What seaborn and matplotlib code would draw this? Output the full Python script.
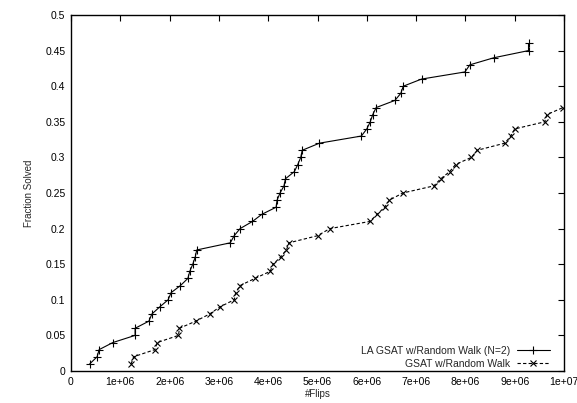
import matplotlib
matplotlib.use("Agg")
import matplotlib.pyplot as plt
import seaborn as sns
import pandas as pd

# LA GSAT w/Random Walk (N=2)
la_flips = [0.38e6, 0.53e6, 0.57e6, 0.85e6, 1.30e6, 1.30e6, 1.58e6, 1.64e6, 1.80e6, 1.97e6,
            2.03e6, 2.22e6, 2.37e6, 2.41e6, 2.47e6, 2.52e6, 2.55e6, 3.23e6, 3.31e6, 3.43e6,
            3.68e6, 3.87e6, 4.16e6, 4.18e6, 4.24e6, 4.32e6, 4.35e6, 4.53e6, 4.60e6, 4.66e6,
            4.69e6, 5.04e6, 5.89e6, 6.00e6, 6.07e6, 6.12e6, 6.19e6, 6.57e6, 6.69e6, 6.74e6,
            7.11e6, 7.99e6, 8.09e6, 8.58e6, 9.28e6, 9.28e6]
la_frac = [0.01, 0.02, 0.03, 0.04, 0.05, 0.06, 0.07, 0.08, 0.09, 0.10,
           0.11, 0.12, 0.13, 0.14, 0.15, 0.16, 0.17, 0.18, 0.19, 0.20,
           0.21, 0.22, 0.23, 0.24, 0.25, 0.26, 0.27, 0.28, 0.29, 0.30,
           0.31, 0.32, 0.33, 0.34, 0.35, 0.36, 0.37, 0.38, 0.39, 0.40,
           0.41, 0.42, 0.43, 0.44, 0.45, 0.46]

# GSAT w/Random Walk
gs_flips = [1.22e6, 1.27e6, 1.70e6, 1.75e6, 2.18e6, 2.20e6, 2.53e6, 2.81e6, 3.02e6, 3.31e6,
            3.34e6, 3.43e6, 3.73e6, 4.04e6, 4.10e6, 4.25e6, 4.37e6, 4.42e6, 5.00e6, 5.25e6,
            6.06e6, 6.21e6, 6.36e6, 6.46e6, 6.73e6, 7.36e6, 7.50e6, 7.68e6, 7.80e6, 8.12e6,
            8.24e6, 8.80e6, 8.92e6, 9.00e6, 9.61e6, 9.65e6, 9.98e6]
gs_frac = [0.01, 0.02, 0.03, 0.04, 0.05, 0.06, 0.07, 0.08, 0.09, 0.10,
           0.11, 0.12, 0.13, 0.14, 0.15, 0.16, 0.17, 0.18, 0.19, 0.20,
           0.21, 0.22, 0.23, 0.24, 0.25, 0.26, 0.27, 0.28, 0.29, 0.30,
           0.31, 0.32, 0.33, 0.34, 0.35, 0.36, 0.37]

series_names = ["LA GSAT w/Random Walk (N=2)", "GSAT w/Random Walk"]
x_ticks = [0, 1e6, 2e6, 3e6, 4e6, 5e6, 6e6, 7e6, 8e6, 9e6, 1e7]
x_tick_labels = ["0", "1e+06", "2e+06", "3e+06", "4e+06", "5e+06", "6e+06", "7e+06", "8e+06", "9e+06", "1e+07"]
y_ticks = [0, 0.05, 0.1, 0.15, 0.2, 0.25, 0.3, 0.35, 0.4, 0.45, 0.5]
y_tick_labels = ["0", "0.05", "0.1", "0.15", "0.2", "0.25", "0.3", "0.35", "0.4", "0.45", "0.5"]

sns.set_theme(style="white")
plt.rcParams['font.family'] = ['Liberation Sans', 'DejaVu Sans']

fig = plt.figure(figsize=(5.77, 4.03), dpi=100)
ax = fig.add_axes([71/577, 1 - 371/403, (564 - 71)/577, (371 - 15)/403])

df_la = pd.DataFrame({"flips": la_flips, "frac": la_frac})
df_gs = pd.DataFrame({"flips": gs_flips, "frac": gs_frac})

sns.lineplot(data=df_la, x="flips", y="frac", ax=ax, estimator=None, sort=False,
             color="black", linewidth=0.8, marker="+", markersize=5.5, markeredgewidth=0.8,
             markeredgecolor="black", markerfacecolor="black",
             label=series_names[0])
sns.lineplot(data=df_gs, x="flips", y="frac", ax=ax, estimator=None, sort=False,
             color="black", linewidth=0.8, linestyle=(0, (3, 2)), marker="x", markersize=4.5,
             markeredgewidth=0.8, markeredgecolor="black", markerfacecolor="black",
             label=series_names[1])

ax.set_xlim(0, 1e7)
ax.set_ylim(0, 0.5)
ax.set_xticks(x_ticks)
ax.set_xticklabels(x_tick_labels)
ax.set_yticks(y_ticks)
ax.set_yticklabels(y_tick_labels)
ax.tick_params(direction="in", length=4, width=0.8, top=True, right=True,
               labelsize=7.5, colors="black", pad=4)
for s in ax.spines.values():
    s.set_color("black")
    s.set_linewidth(1.0)
ax.set_xlabel("#Flips", fontsize=7, labelpad=2)
ax.set_ylabel("Fraction Solved", fontsize=7, labelpad=8)

leg = ax.legend(loc="lower right", bbox_to_anchor=(0.98, -0.005), frameon=False,
                markerfirst=False, fontsize=7.5, handlelength=3.2, borderaxespad=0.0,
                labelspacing=0.25, handletextpad=0.6)
for t in leg.get_texts():
    t.set_ha("right")

fig.savefig("out.png", dpi=100)
